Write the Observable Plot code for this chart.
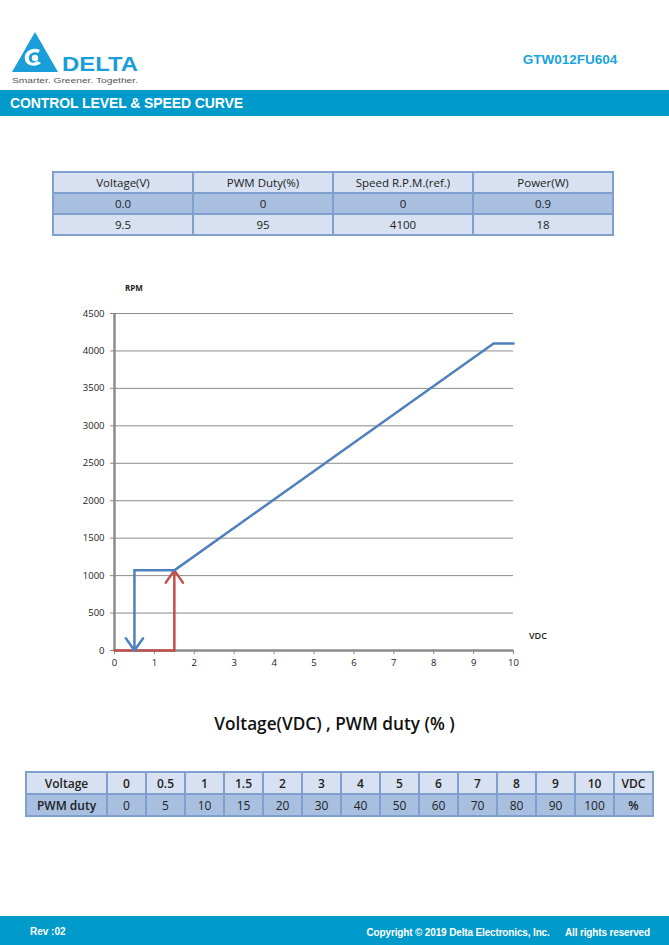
<!DOCTYPE html>
<html>
<head>
<meta charset="utf-8">
<script src="https://cdn.jsdelivr.net/npm/d3@7"></script>
<script src="https://cdn.jsdelivr.net/npm/@observablehq/plot@0.6"></script>
<style>
  html, body { margin: 0; padding: 0; background: #fff; }
  #page { position: relative; width: 669px; height: 945px; overflow: hidden; font-family: "Open Sans", "Noto Sans", sans-serif; }
  .abs { position: absolute; }
  #model { left: 500px; top: 52px; width: 140px; text-align: center; font-family: "Liberation Sans", Arial, sans-serif; font-weight: bold; font-size: 13.5px; color: #1aa3dc; }
  #bar { left: 0; top: 90px; width: 669px; height: 26px; background: #009acb; }
  #bartitle { left: 10px; top: 95px; font-family: "Liberation Sans", Arial, sans-serif; font-weight: bold; font-size: 14px; color: #fff; letter-spacing: -0.1px; }
  table { border-collapse: collapse; position: absolute; table-layout: fixed; }
  td { text-align: center; padding: 0; color: #222; border: 2px solid #7f9fcf; }
  #spec { left: 52px; top: 171px; width: 562px; font-size: 11.5px; }
  #spec td { height: 19px; }
  #map { left: 25px; top: 771px; width: 627px; font-size: 12px; }
  #map td { height: 20px; }
  .light { background: #d7e1f1; }
  .dark { background: #a8bfe0; }
  #chart { left: 0; top: 270px; }
  #rpm { left: 125px; top: 282px; font-size: 8px; font-weight: bold; color: #222; }
  #vdc { left: 529px; top: 629px; font-size: 9px; font-weight: 600; color: #222; }
  #title2 { left: 0; top: 712px; width: 669px; text-align: center; font-size: 17.2px; font-weight: 600; color: #111; }
  #foot { left: 0; top: 916px; width: 669px; height: 29px; background: #009acb; }
  #rev { left: 30px; top: 926px; font-family: "Liberation Sans", Arial, sans-serif; font-weight: bold; font-size: 10px; color: #fff; }
  #copy { right: 19px; top: 927px; font-family: "Liberation Sans", Arial, sans-serif; font-weight: bold; font-size: 10px; color: #fff; letter-spacing: -0.15px; white-space: pre; }
</style>
</head>
<body>
<div id="page">
  <svg class="abs" style="left:10px;top:30px" width="132" height="56" viewBox="0 0 132 56">
    <polygon points="25,2 2,42 48,42" fill="#1a9ed9"/>
    <path d="M30,20 C22,16 13,22 15,30 C17,37 27,37 31,33 L27,31 C24,34 19,33 19,29 C18,24 24,21 28,23 Z" fill="#fff"/>
    <circle cx="25" cy="28" r="3.2" fill="#fff"/>
    <text x="52" y="41" font-family="Liberation Sans, Arial, sans-serif" font-weight="bold" font-size="21" fill="#1a9ed9" textLength="76" lengthAdjust="spacingAndGlyphs">DELTA</text>
    <text x="2" y="53" font-family="Liberation Sans, Arial, sans-serif" font-size="7.5" fill="#555" textLength="126" lengthAdjust="spacingAndGlyphs">Smarter.  Greener.  Together.</text>
  </svg>
  <div id="model" class="abs">GTW012FU604</div>
  <div id="bar" class="abs"></div>
  <div id="bartitle" class="abs">CONTROL LEVEL &amp; SPEED CURVE</div>
  <table id="spec"></table>
  <div id="chart" class="abs"></div>
  <div id="rpm" class="abs">RPM</div>
  <div id="vdc" class="abs">VDC</div>
  <div id="title2" class="abs">Voltage(VDC) , PWM duty (% )</div>
  <table id="map"></table>
  <div id="foot" class="abs"></div>
  <div id="rev" class="abs">Rev :02</div>
  <div id="copy" class="abs">Copyright © 2019 Delta Electronics, Inc.      All rights reserved</div>
</div>
<script>
// ---- Data ----
const specHeaders = ["Voltage(V)", "PWM Duty(%)", "Speed R.P.M.(ref.)", "Power(W)"];
const specRow1 = ["0.0", "0", "0", "0.9"];
const specRow2 = ["9.5", "95", "4100", "18"];

const mapVoltage = ["0", "0.5", "1", "1.5", "2", "3", "4", "5", "6", "7", "8", "9", "10"];
const mapPwm = ["0", "5", "10", "15", "20", "30", "40", "50", "60", "70", "80", "90", "100"];

// blue curve: falling control (arrow down at 0.5 V), then rise to 4100 rpm
const blueVolt = [0.5, 0.5, 1.5, 9.5, 10];
const blueRpm = [0, 1070, 1070, 4100, 4100];
// red curve: rising start (arrow up at 1.5 V)
const redVolt = [0, 1.5, 1.5];
const redRpm = [0, 0, 1070];

const yTicks = [0, 500, 1000, 1500, 2000, 2500, 3000, 3500, 4000, 4500];
const xTicks = [0, 1, 2, 3, 4, 5, 6, 7, 8, 9, 10];

// ---- Tables ----
function fillTable(el, rows, classes, weights, widths) {
  if (widths) {
    const cg = document.createElement("colgroup");
    widths.forEach(w => { const c = document.createElement("col"); c.style.width = w + "px"; cg.appendChild(c); });
    el.appendChild(cg);
  }
  rows.forEach((r, i) => {
    const tr = document.createElement("tr");
    tr.className = classes[i];
    r.forEach((v, j) => {
      const td = document.createElement("td");
      td.textContent = v;
      td.style.fontWeight = typeof weights[i] === "function" ? weights[i](j) : weights[i];
      tr.appendChild(td);
    });
    el.appendChild(tr);
  });
}
fillTable(document.getElementById("spec"), [specHeaders, specRow1, specRow2],
  ["light", "dark", "light"], [400, 400, 400]);
fillTable(document.getElementById("map"),
  [["Voltage", ...mapVoltage, "VDC"], ["PWM duty", ...mapPwm, "%"]],
  ["light", "dark"], [600, j => (j === 0 || j === 14 ? 600 : 400)],
  [81, ...mapVoltage.map(() => 39), 39]);

// ---- Chart ----
const blue = "#4f81bd", red = "#c0504d", grid = "#8c8c8c";
const bluePts = blueVolt.map((v, i) => ({v, r: blueRpm[i]}));
const redPts = redVolt.map((v, i) => ({v, r: redRpm[i]}));

const chart = Plot.plot({
  width: 669,
  height: 420,
  marginLeft: 114,
  marginRight: 156,
  marginTop: 43,
  marginBottom: 40,
  x: {domain: [0, 10], ticks: xTicks, tickSize: 4, tickPadding: 5, label: null, tickFormat: d => String(d)},
  y: {domain: [0, 4500], ticks: yTicks, tickSize: 4, tickPadding: 6, label: null, tickFormat: d => String(d)},
  style: {fontFamily: "'Open Sans', sans-serif", fontSize: "9.5px", color: "#222", background: "transparent"},
  marks: [
    Plot.ruleY(yTicks.filter(d => d > 0), {stroke: grid, strokeWidth: 1, strokeOpacity: 1}),
    Plot.axisY({ticks: yTicks, tickSize: 4, tickPadding: 6, stroke: grid, tickFormat: d => String(d)}),
    Plot.axisX({ticks: xTicks, tickSize: 4, tickPadding: 5, stroke: grid, tickFormat: d => String(d)}),
    Plot.ruleX([0], {stroke: grid, strokeWidth: 2.5}),
    Plot.ruleY([0], {stroke: grid, strokeWidth: 2.5}),
    // red
    Plot.line(redPts.slice(0, 2), {x: "v", y: "r", stroke: red, strokeWidth: 2.5}),
    Plot.arrow([{x1: redVolt[1], y1: redRpm[1], x2: redVolt[2], y2: redRpm[2]}],
      {x1: "x1", y1: "y1", x2: "x2", y2: "y2", stroke: red, strokeWidth: 2.5, headLength: 9, headAngle: 70, bend: 0}),
    // blue
    Plot.line(bluePts.slice(1), {x: "v", y: "r", stroke: blue, strokeWidth: 2.5}),
    Plot.arrow([{x1: blueVolt[1], y1: blueRpm[1], x2: blueVolt[0], y2: blueRpm[0]}],
      {x1: "x1", y1: "y1", x2: "x2", y2: "y2", stroke: blue, strokeWidth: 2.5, headLength: 9, headAngle: 70, bend: 0})
  ]
});
document.getElementById("chart").appendChild(chart);
</script>
</body>
</html>
